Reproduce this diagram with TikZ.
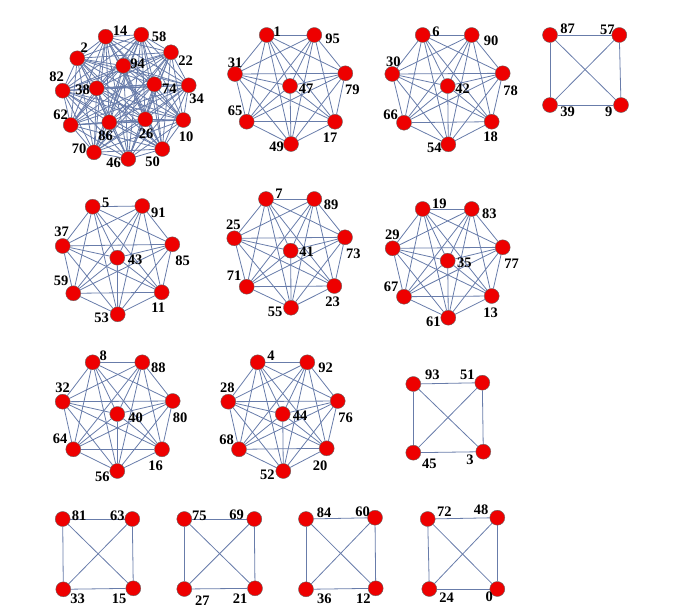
\documentclass[tikz,border=0pt]{standalone}
\usepackage{fontspec}
\setmainfont{Liberation Serif}
\usetikzlibrary{backgrounds}

\definecolor{edgeblue}{RGB}{104,124,170}
\definecolor{vtxred}{RGB}{238,0,0}

\begin{document}
\begin{tikzpicture}[x=1pt,y=-1pt,
    vtx/.style={circle,fill=vtxred,draw=black!60,line width=0.4pt,minimum size=15pt,inner sep=0pt},
    lbl/.style={font=\fontsize{14.5}{14.5}\selectfont\bfseries,inner sep=0pt},
    edge/.style={draw=edgeblue,line width=0.8pt}]
  \useasboundingbox (0,0) rectangle (683,608);

  % Vertices: name / x / y / label x / label y
  \foreach \n/\x/\y/\lx/\ly in {
      % big cluster
      14/105.7/36.7/120/31, 58/141.3/34.7/159/36.7, 2/77.3/58.3/84.3/47.3,
      22/171/52.3/185.7/61, 94/123.3/65.7/137.7/63.3, 82/62.7/90.7/56.7/76.7,
      38/96.7/88.3/82.7/90, 74/154.3/84.3/169.3/88.3, 34/188.7/85.3/196.7/98.3,
      62/70.7/125/60.7/115, 86/109.3/122.3/105.7/135.5, 26/145.3/119.3/146/133.3,
      10/183.3/120/186/136.7, 70/94/152.3/79/148.3, 46/128.3/159/113.5/162.7,
      50/162.3/149/152.7/161.7,
      % top row
      1/266.7/35/277.3/31.7, 95/314.3/35/332.7/39, 31/235/74/235/62.3,
      79/345.3/73.3/352.3/89.3, 47/290/86/306/88.3, 65/246.7/121.7/235/110.7,
      17/335/121.7/330/137.3, 49/291/144/276.7/146.7,
      6/422.7/35/436/31.7, 90/471.7/35/491/40.7, 30/392.3/74/393.3/61.7,
      78/502.7/73.3/510.7/91, 42/447.7/86/462.7/88.3, 66/404/122.7/390.7/115,
      18/491.7/121.7/490.7/136.7, 54/448.3/144.3/434.3/147.3,
      87/550/35/567.7/28.3, 57/619.3/35/607.3/30, 39/550/105/567.7/111.7,
      9/621/105/608.7/111.7,
      % second row
      5/92.7/206.7/105.7/202.7, 91/142.3/206/158.3/212.3, 37/62.7/246/61.7/231.7,
      85/172.3/244.3/182.7/260.7, 43/117.3/257.7/135/260, 59/73.3/293.3/61/280.7,
      11/161.7/292.3/158.3/307.3, 53/117.7/314.3/101.7/317.3,
      7/266/199/279/193.3, 89/314.3/199/331/205, 25/234.3/238.3/233.3/225,
      73/345/237.3/353.3/253.3, 41/290.7/250.7/306.7/251.7, 71/246.7/286.7/234/275.7,
      23/334.3/286/332.7/301.7, 55/291/307.7/275/311.7,
      19/422.7/209/439.3/204, 83/471.7/209/489.3/213.3, 29/392.7/248.3/392.3/234.3,
      77/502.7/247.3/511.7/263.3, 35/447.7/260.7/464.3/262.7, 67/404/296.7/391/286.7,
      13/491.7/296/490.7/312.3, 61/448.3/317.7/433.3/321.7,
      % third row
      8/92.7/362.3/103.3/356, 88/142.3/362.3/158.3/367.3, 32/62.7/401.7/62.7/387.7,
      80/172.7/401/180/417.7, 40/117.3/414/135.7/417.3, 64/73.3/449.3/60/438.3,
      16/162/449.3/155.7/465.7, 56/117.3/471/102.3/476.7,
      4/257.7/362.3/271/356, 92/307.3/362.3/325.7/367.3, 28/228.3/401.7/227.3/387.7,
      76/337.7/401/345.7/417.7, 44/282.7/414/300/415.7, 68/239/449.3/226.7/439.3,
      20/326.7/448.3/320/465.7, 52/283.3/471/267.3/475,
      93/413.3/384/432.3/375, 51/482.3/382.7/467.3/375, 45/413.3/452.7/429.3/463.3,
      3/483.3/451.7/470/459.3,
      % bottom row
      81/62.7/519/79/516, 63/132.3/519/117.3/516, 33/63.3/589.3/77.7/599,
      15/133.3/588.3/119/599,
      75/184.3/519/199.3/516, 69/254.3/519/236.7/514.3, 27/184.3/589/202.3/601,
      21/255/588.3/240/599,
      84/306/519/324/512.7, 60/375/517.7/362.7/511.7, 36/306/589.3/324.3/599,
      12/375.7/588.3/363.3/599,
      72/427.7/519/444.3/511.7, 48/497.3/517.7/481/510, 24/429.3/589/446.7/597.7,
      0/497.3/589/489.3/596.7}
  {
    \node[vtx] (v\n) at (\x,\y) {};
    \node[lbl] (l\n) at (\lx,\ly) {\n};
  }

  % Each group is a complete graph
  \begin{pgfonlayer}{background}
    \foreach \grp in {
        {14,58,2,22,94,82,38,74,34,62,86,26,10,70,46,50},
        {1,95,31,79,47,65,17,49}, {6,90,30,78,42,66,18,54}, {87,57,39,9},
        {5,91,37,85,43,59,11,53}, {7,89,25,73,41,71,23,55}, {19,83,29,77,35,67,13,61},
        {8,88,32,80,40,64,16,56}, {4,92,28,76,44,68,20,52}, {93,51,45,3},
        {81,63,33,15}, {75,69,27,21}, {84,60,36,12}, {72,48,24,0}}
    {
      \foreach \a [count=\i] in \grp {
        \foreach \b [count=\j] in \grp {
          \ifnum\j>\i \draw[edge] (v\a) -- (v\b); \fi
        }
      }
    }
  \end{pgfonlayer}
\end{tikzpicture}
\end{document}
